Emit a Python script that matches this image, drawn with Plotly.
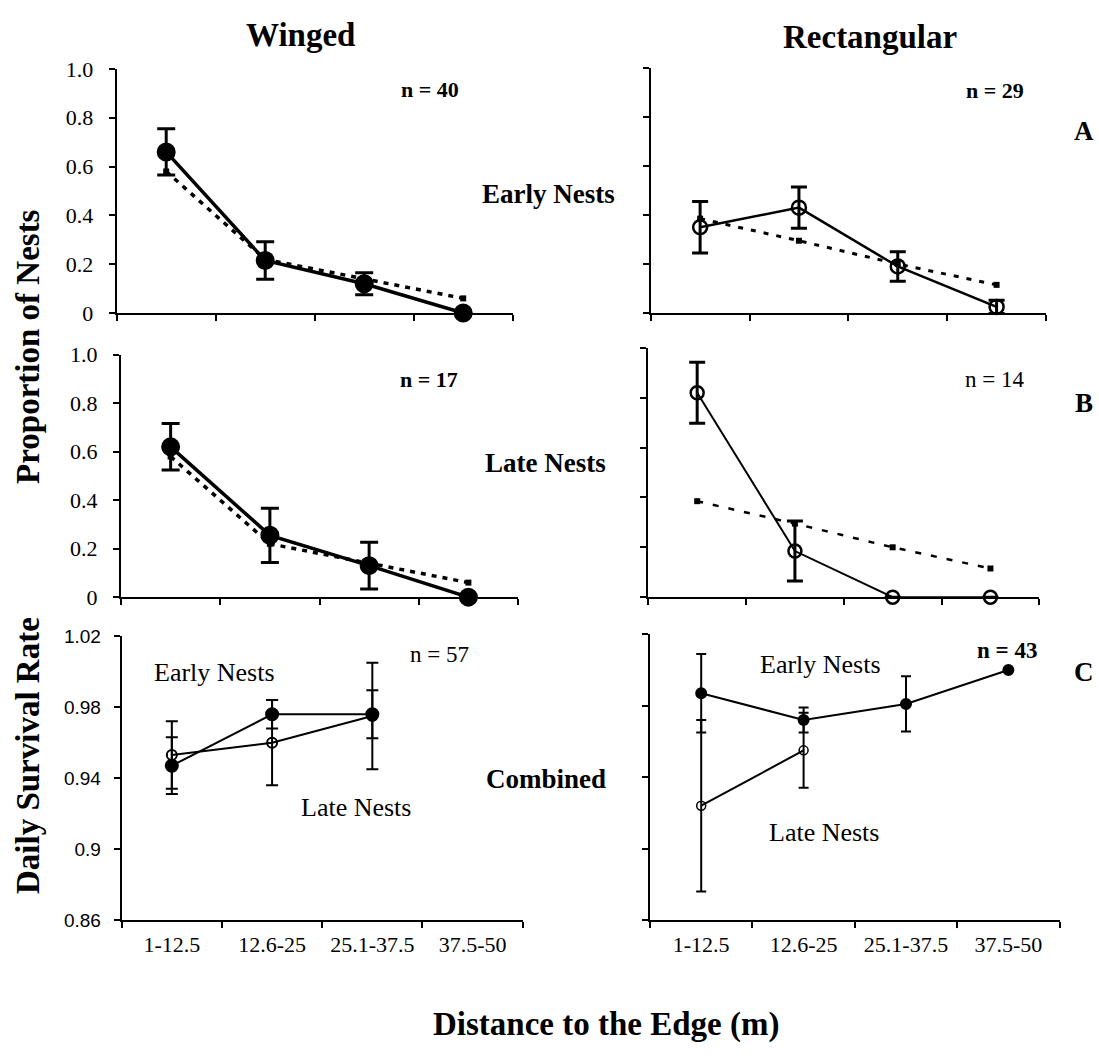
import plotly.graph_objects as go

# ---------------- data ----------------
categories = ["1-12.5", "12.6-25", "25.1-37.5", "37.5-50"]
cat_pos = [0.5, 1.5, 2.5, 3.5]

winged_early_obs = [0.66, 0.215, 0.12, 0.0]
winged_early_err = [0.095, 0.077, 0.045, None]
winged_late_obs = [0.62, 0.255, 0.13, 0.0]
winged_late_err = [0.096, 0.112, 0.096, None]
winged_expected = [0.58, 0.22, 0.14, 0.06]

rect_early_obs = [0.35, 0.43, 0.19, 0.025]
rect_early_err = [0.105, 0.084, 0.06, 0.027]
rect_late_obs = [0.82, 0.185, 0.0, 0.0]
rect_late_err = [0.122, 0.12, None, None]
rect_expected = [0.385, 0.295, 0.20, 0.115]

dsr_winged_early = [0.947, 0.976, 0.976]
dsr_winged_early_err = [0.016, 0.008, 0.0135]
dsr_winged_late = [0.953, 0.960, 0.975]
dsr_winged_late_err = [0.019, 0.024, 0.030]

dsr_rect_early = [0.987, 0.972, 0.981, 1.0]
dsr_rect_early_err = [0.022, 0.007, 0.0155, None]
dsr_rect_late = [0.924, 0.955]
dsr_rect_late_err = [0.048, 0.021]

prop_ticks = [0, 0.2, 0.4, 0.6, 0.8, 1.0]
prop_ticktext = ["0", "0.2", "0.4", "0.6", "0.8", "1.0"]
dsr_ticks = [0.86, 0.90, 0.94, 0.98, 1.02]
dsr_ticktext = ["0.86", "0.9", "0.94", "0.98", "1.02"]

# ---------------- layout geometry (pixels) ----------------
W, H = 1099, 1059
SERIF = "Liberation Serif, Times New Roman, serif"
SANS = "Liberation Sans, Arial, sans-serif"

panels = {
    1: dict(x=(116.7, 512.7), y=(58.3, 308.3)),
    2: dict(x=(650.7, 1046.0), y=(57.3, 308.3)),
    3: dict(x=(121.0, 518.0), y=(351.0, 599.3)),
    4: dict(x=(648.3, 1039.3), y=(344.0, 599.3)),
    5: dict(x=(121.7, 522.7), y=(639.3, 930.0)),
    6: dict(x=(650.0, 1059.6), y=(637.3, 930.0)),
}


def xd(p):
    return [p[0] / W, p[1] / W]


def yd(p):
    return [1 - p[1] / H, 1 - p[0] / H]


fig = go.Figure()


def ax_name(i, kind):
    return kind if i == 1 else f"{kind}{i}"


def add_line(i, y, err=None, marker_symbol="circle", msize=12, lwidth=2,
             dash="solid", ethick=2, ewidth=6, mline=2, xs=None):
    xs = cat_pos[:len(y)] if xs is None else xs
    kw = dict(
        x=xs, y=y, mode="lines+markers",
        xaxis=ax_name(i, "x"), yaxis=ax_name(i, "y"),
        line=dict(color="black", width=lwidth, dash=dash),
        marker=dict(symbol=marker_symbol, size=msize, color="black",
                    line=dict(color="black", width=mline)),
        cliponaxis=False, showlegend=False, hoverinfo="skip",
    )
    if err is not None:
        kw["error_y"] = dict(type="data", array=err, visible=True,
                             color="black", thickness=ethick, width=ewidth)
    fig.add_trace(go.Scatter(**kw))


# A-left (Winged, early)
add_line(1, winged_expected, marker_symbol="square", msize=6, lwidth=3.5, dash="5px,6px", mline=0)
add_line(1, winged_early_obs, winged_early_err, "circle", 17, 3.5, ethick=3, ewidth=9)
# A-right (Rectangular, early)
add_line(2, rect_expected, marker_symbol="square", msize=6, lwidth=3, dash="5px,8px", mline=0)
add_line(2, rect_early_obs, rect_early_err, "circle-open", 14, 2.5, ethick=3, ewidth=8, mline=2.5)
# B-left (Winged, late)
add_line(3, winged_expected, marker_symbol="square", msize=6, lwidth=3.5, dash="5px,6px", mline=0)
add_line(3, winged_late_obs, winged_late_err, "circle", 17, 3.5, ethick=3, ewidth=9)
# B-right (Rectangular, late)
add_line(4, rect_expected, marker_symbol="square", msize=6, lwidth=2.5, dash="6px,10px", mline=0)
add_line(4, rect_late_obs, rect_late_err, "circle-open", 13, 2, ethick=3, ewidth=8, mline=2.5)
# C-left (Winged DSR)
add_line(5, dsr_winged_late, dsr_winged_late_err, "circle-open", 10, 2, ethick=2, ewidth=6, mline=2)
add_line(5, dsr_winged_early, dsr_winged_early_err, "circle", 12, 2, ethick=2, ewidth=6)
# C-right (Rectangular DSR)
add_line(6, dsr_rect_late, dsr_rect_late_err, "circle-open", 9, 2, ethick=2, ewidth=5, mline=1.5)
add_line(6, dsr_rect_early, dsr_rect_early_err, "circle", 10, 2, ethick=2, ewidth=5)

layout = dict(
    width=W, height=H, margin=dict(l=0, r=0, t=0, b=0),
    paper_bgcolor="white", plot_bgcolor="white",
)

for i, p in panels.items():
    bottom = i in (5, 6)
    left = i in (1, 3, 5)
    xa = dict(
        domain=xd(p["x"]), range=[0, 4], anchor=ax_name(i, "y"),
        showgrid=False, zeroline=False, showline=True,
        linecolor="black", linewidth=2,
        tickmode="array", tickvals=cat_pos, ticktext=categories,
        ticks="", showticklabels=bottom,
        tickfont=dict(family=SERIF, size=22, color="black"),
        ticklabelstandoff=4,
        minor=dict(tickmode="array", tickvals=[0, 1, 2, 3, 4], ticks="outside",
                   ticklen=6, tickwidth=1.5, tickcolor="black", showgrid=False),
    )
    if bottom:
        ya = dict(range=[0.86, 1.02], tickmode="array", tickvals=dsr_ticks,
                  ticktext=dsr_ticktext,
                  tickfont=dict(family=SANS, size=19, color="black"),
                  ticklabelstandoff=9)
    else:
        ya = dict(range=[0, 1], tickmode="array", tickvals=prop_ticks,
                  ticktext=prop_ticktext,
                  tickfont=dict(family=SERIF, size=22, color="black"),
                  ticklabelstandoff=11)
    ya.update(
        domain=yd(p["y"]), anchor=ax_name(i, "x"),
        showgrid=False, zeroline=False, showline=True,
        linecolor="black", linewidth=2, ticks="outside", ticklen=6,
        tickwidth=1.5, tickcolor="black", showticklabels=left,
    )
    layout["xaxis" if i == 1 else f"xaxis{i}"] = xa
    layout["yaxis" if i == 1 else f"yaxis{i}"] = ya

fig.update_layout(**layout)


def note(text, xpx, ypx, size, bold=False, family=SERIF, angle=0, xanchor="center"):
    t = f"<b>{text}</b>" if bold else text
    fig.add_annotation(
        text=t, x=xpx / W, y=1 - ypx / H, xref="paper", yref="paper",
        xanchor=xanchor, yanchor="middle", showarrow=False, textangle=angle,
        font=dict(family=family, size=size, color="black"),
    )


note("Winged", 300, 24, 33, bold=True)
note("Rectangular", 870, 26, 33, bold=True)
note("Early Nests", 480, 186, 27, bold=True, xanchor="left")
note("Late Nests", 483, 462, 27, bold=True, xanchor="left")
note("Combined", 484, 786, 27, bold=True, xanchor="left")
note("A", 1084, 122, 27, bold=True)
note("B", 1084, 400, 27, bold=True)
note("C", 1084, 676, 27, bold=True)
note("n = 40", 430, 79, 22, bold=True)
note("n = 29", 995, 80, 22, bold=True)
note("n = 17", 429, 376, 22, bold=True)
note("n = 14", 994, 376, 23)
note("n = 57", 439, 658, 23)
note("n = 43", 1007, 654, 23, bold=True)
note("Early Nests", 214, 676, 26)
note("Late Nests", 356, 815, 26)
note("Early Nests", 820, 668, 26)
note("Late Nests", 824, 840, 26)
note("Proportion of Nests", 28, 343, 33, bold=True, angle=-90)
note("Daily Survival Rate", 28, 762, 33, bold=True, angle=-90)
note("Distance to the Edge (m)", 606, 1037, 33, bold=True)

fig.write_html("out.html")
